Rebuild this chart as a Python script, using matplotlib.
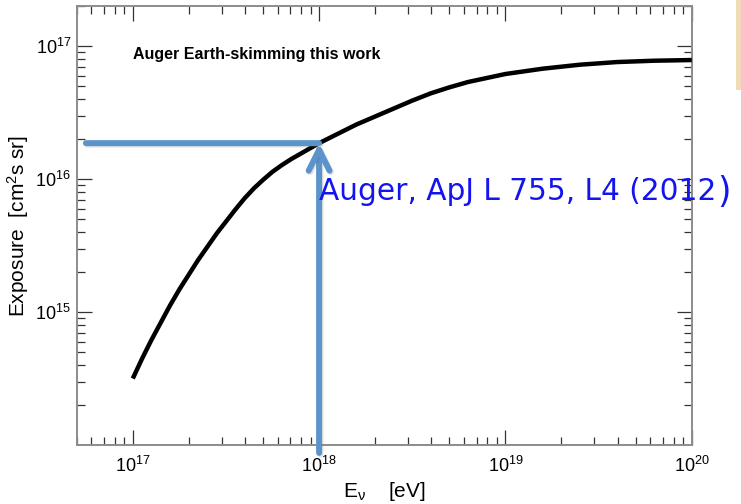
import matplotlib
matplotlib.use("Agg")
import matplotlib.pyplot as plt
import matplotlib.patheffects as pe
from matplotlib.patches import Rectangle
from matplotlib.ticker import LogLocator, NullFormatter, FixedLocator, FixedFormatter

plt.rcParams["font.family"] = ["Liberation Sans", "DejaVu Sans"]
plt.rcParams["mathtext.fontset"] = "custom"
plt.rcParams["mathtext.rm"] = "Liberation Sans"
plt.rcParams["mathtext.it"] = "Liberation Sans:italic"
plt.rcParams["mathtext.bf"] = "Liberation Sans:bold"

# Earth-skimming neutrino exposure vs energy (log10 of eV, log10 of cm^2 s sr)
log10_energy = [17.00, 17.05, 17.10, 17.15, 17.20, 17.25, 17.30, 17.35, 17.40,
                17.45, 17.50, 17.55, 17.60, 17.65, 17.70, 17.75, 17.80, 17.85,
                17.90, 17.95, 18.00, 18.10, 18.20, 18.30, 18.40, 18.50, 18.60,
                18.70, 18.80, 18.90, 19.00, 19.20, 19.40, 19.60, 19.80, 20.00]
log10_exposure = [14.50, 14.65, 14.79, 14.92, 15.05, 15.17, 15.28, 15.39, 15.49,
                  15.59, 15.68, 15.77, 15.855, 15.93, 15.995, 16.055, 16.105, 16.15,
                  16.19, 16.23, 16.27, 16.34, 16.41, 16.47, 16.53, 16.59, 16.645,
                  16.69, 16.73, 16.76, 16.79, 16.83, 16.86, 16.88, 16.89, 16.895]

x_ticks = [1e17, 1e18, 1e19, 1e20]
x_tick_labels = [r"$10^{17}$", r"$10^{18}$", r"$10^{19}$", r"$10^{20}$"]
y_ticks = [1e15, 1e16, 1e17]
y_tick_labels = [r"$10^{15}$", r"$10^{16}$", r"$10^{17}$"]

energy = [10 ** e for e in log10_energy]
exposure = [10 ** v for v in log10_exposure]

marked_energy = 1e18
marked_exposure = exposure[log10_energy.index(18.0)]

fig = plt.figure(figsize=(7.41, 5.04), dpi=100)
ax = fig.add_axes([0.1035, 0.117, 0.830, 0.871])

ax.plot(energy, exposure, color="black", lw=3.2, solid_capstyle="butt",
        solid_joinstyle="round", zorder=3)

ax.set_xscale("log")
ax.set_yscale("log")
ax.set_xlim(5e16, 1e20)
ax.set_ylim(1e14, 2e17)

ax.xaxis.set_major_locator(FixedLocator(x_ticks))
ax.xaxis.set_major_formatter(FixedFormatter(x_tick_labels))
ax.yaxis.set_major_locator(FixedLocator(y_ticks))
ax.yaxis.set_major_formatter(FixedFormatter(y_tick_labels))
for axis in (ax.xaxis, ax.yaxis):
    axis.set_minor_locator(LogLocator(base=10, subs=range(2, 10), numticks=20))
    axis.set_minor_formatter(NullFormatter())

ax.tick_params(which="both", direction="in", top=True, right=True,
               color="#333333", width=0.9)
ax.tick_params(which="major", length=11)
ax.tick_params(which="minor", length=6)
ax.tick_params(axis="x", which="major", pad=8, labelsize=13)
ax.tick_params(axis="y", which="major", pad=4, labelsize=13)

for sp in ax.spines.values():
    sp.set_color("#8c8c8c")
    sp.set_linewidth(1.4)

ax.set_xlabel(r"E$_{\mathrm{ν}}$    [eV]", fontsize=15, labelpad=3)
ax.set_ylabel(r"Exposure  [cm$^2$s sr]", fontsize=15, labelpad=3)

ax.text(0.0915, 0.89, "Auger Earth-skimming this work", transform=ax.transAxes,
        fontsize=11.5, fontweight="bold", va="center", ha="left")

# reference marker at 1 EeV
blue = "#5b93cb"
shadow = [pe.SimpleLineShadow(offset=(1, -1), shadow_color="#555555", alpha=0.18),
          pe.Normal()]
ax.annotate("", xy=(marked_energy, marked_exposure), xycoords="data",
            xytext=(0.015, marked_exposure), textcoords=("axes fraction", "data"),
            arrowprops=dict(arrowstyle="-", color=blue, lw=4.3,
                            shrinkA=0, shrinkB=0, path_effects=shadow),
            annotation_clip=False, zorder=4)
ax.annotate("", xy=(marked_energy, marked_exposure), xycoords="data",
            xytext=(marked_energy, -0.018), textcoords=("data", "axes fraction"),
            arrowprops=dict(arrowstyle="->,head_length=1.0,head_width=0.5",
                            mutation_scale=15, color=blue, lw=4.3,
                            shrinkA=0, shrinkB=0, path_effects=shadow),
            annotation_clip=False, zorder=4)

hand_blue = "#1414ee"
ax.text(marked_energy, 0.558, "Auger, ApJ L 755, L4 (2012",
        transform=ax.get_xaxis_transform(), fontsize=21.3, color=hand_blue,
        family="DejaVu Sans", ha="left", va="baseline", zorder=5, clip_on=False)
ax.text(1.041, 0.553, ")", transform=ax.transAxes, fontsize=25, color=hand_blue,
        family="DejaVu Sans", ha="left", va="baseline", zorder=5, clip_on=False)

# slide edge strip on the right
fig.patches.append(Rectangle((736 / 741, 1 - 90 / 504), 6 / 741, 90 / 504,
                             transform=fig.transFigure, facecolor="#efdcb6",
                             edgecolor="none"))

fig.savefig("out.png", dpi=100)
